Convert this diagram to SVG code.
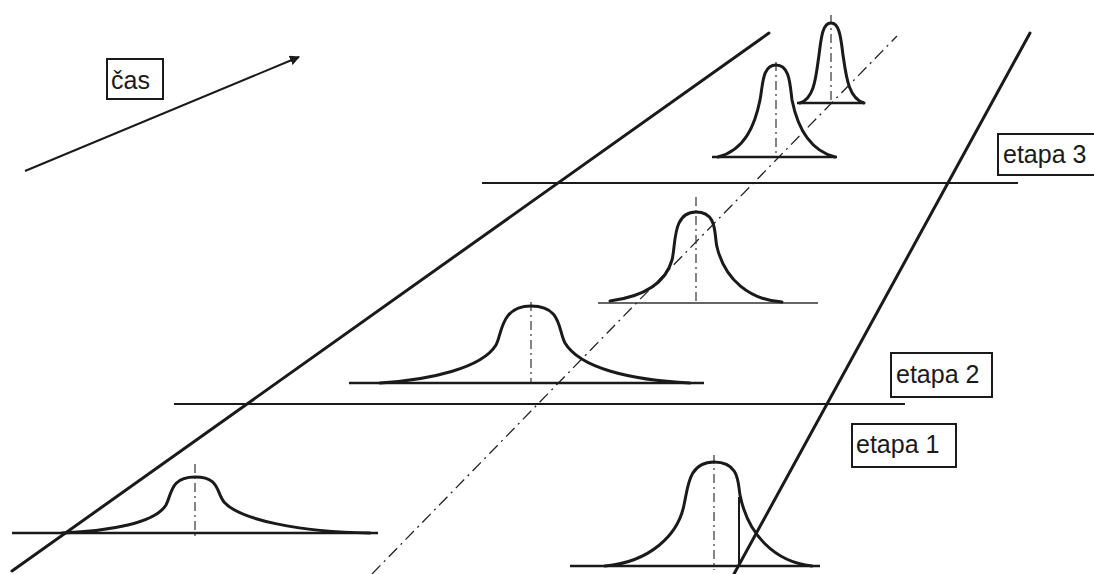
<svg xmlns="http://www.w3.org/2000/svg" width="1094" height="574" viewBox="0 0 1094 574">
<style>
.bg{fill:#fff}
.big{stroke:#1a1a1a;stroke-width:3;fill:none;stroke-linecap:round}
.hl{stroke:#1a1a1a;stroke-width:2;fill:none}
.base{stroke:#1a1a1a;stroke-width:2.4;fill:none}
.thin{stroke:#333;stroke-width:1.3;fill:none}
.curve{stroke:#1a1a1a;stroke-width:3;fill:none;stroke-linecap:round}
.axis{stroke:#333;stroke-width:1.2;fill:none;stroke-dasharray:9 4 2 4}
.dd{stroke:#222;stroke-width:1.3;fill:none;stroke-dasharray:12 5 2 5}
.box{fill:#fff;stroke:#1a1a1a;stroke-width:2}
.lbl{font-family:"Liberation Sans",Arial,sans-serif;font-size:25px;fill:#1a1a1a}
</style>
<defs>
<marker id="ah" markerWidth="10" markerHeight="10" refX="9" refY="5" orient="auto" markerUnits="userSpaceOnUse">
<path d="M0,0 L10,5 L0,10 z" fill="#1a1a1a"/>
</marker>
</defs>
<rect class="bg" x="0" y="0" width="1094" height="574"/>

<g id="frame">
<line class="big" x1="12" y1="571" x2="769" y2="33"/>
<line class="big" x1="1030" y1="33" x2="734" y2="574"/>
<line class="dd" x1="372" y1="574" x2="897" y2="36"/>
<line class="hl" x1="482" y1="183" x2="1018" y2="183"/>
<line class="hl" x1="174" y1="404" x2="905" y2="404"/>
</g>

<g id="connectors">
<line class="hl" x1="25" y1="171" x2="299" y2="57" marker-end="url(#ah)"/>
</g>

<g id="label-cas">
<rect class="box" x="107" y="59" width="56" height="40"/>
<text class="lbl" x="111" y="89">čas</text>
</g>
<g id="label-etapa3">
<rect class="box" x="998" y="134" width="100" height="41"/>
<text class="lbl" x="1003" y="163">etapa 3</text>
</g>
<g id="label-etapa2">
<rect class="box" x="891" y="353" width="101" height="44"/>
<text class="lbl" x="896" y="383">etapa 2</text>
</g>
<g id="label-etapa1">
<rect class="box" x="852" y="424" width="104" height="43"/>
<text class="lbl" x="856" y="453">etapa 1</text>
</g>

<g id="peak-a">
<line class="base" x1="12" y1="533" x2="378" y2="533"/>
<line class="axis" x1="195" y1="464" x2="195" y2="538"/>
<path class="curve" d="M62,533 C110,531 155,523 166,505 C172,494 170,477 195,477 C220,477 216,492 224,502 C240,520 300,532 370,533"/>
</g>

<g id="peak-b">
<line class="base" x1="349" y1="383" x2="704" y2="383"/>
<line class="axis" x1="531" y1="302" x2="531" y2="382"/>
<path class="curve" d="M380,383 C430,380 482,368 496,345 C502,335 500,306 531,306 C562,306 558,330 565,343 C580,368 630,380 690,383"/>
</g>

<g id="peak-c">
<line class="thin" x1="598" y1="303" x2="818" y2="303"/>
<line class="axis" x1="696" y1="197" x2="696" y2="301"/>
<path class="curve" d="M610,301 C640,297 665,285 672,260 C676,245 672,212 696,212 C718,212 714,235 717,247 C725,280 750,300 782,302"/>
</g>

<g id="peak-d">
<line class="base" x1="570" y1="566" x2="820" y2="566"/>
<line class="axis" x1="714" y1="455" x2="714" y2="570"/>
<path class="curve" d="M605,566 C650,562 678,535 684,505 C688,488 688,462 714,462 C740,462 738,484 740,495 C748,535 775,562 812,566"/>
<line class="hl" x1="739" y1="497" x2="739" y2="566"/>
</g>

<g id="peak-e">
<line class="base" x1="712" y1="157" x2="837" y2="157"/>
<line class="axis" x1="776" y1="62" x2="776" y2="157"/>
<path class="curve" d="M718,157 C745,150 755,125 760,100 C763,85 762,65 776,65 C790,65 790,85 792,100 C797,125 808,150 835,157"/>
</g>

<g id="peak-f">
<line class="base" x1="797" y1="103" x2="864" y2="103"/>
<line class="axis" x1="831" y1="15" x2="831" y2="103"/>
<path class="curve" d="M800,103 C815,98 816,75 819,55 C821,40 822,23 831,23 C840,23 841,40 843,55 C846,75 848,98 864,103"/>
</g>
</svg>
